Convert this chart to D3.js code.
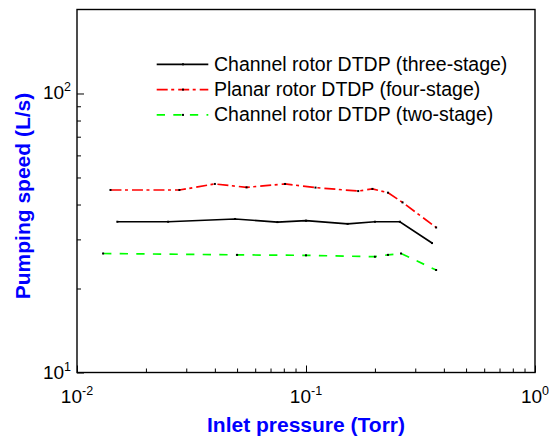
<!DOCTYPE html>
<html>
<head>
<meta charset="utf-8">
<script src="https://cdn.jsdelivr.net/npm/d3@7"></script>
<style>
  html, body { margin: 0; padding: 0; background: #fff; }
  svg { display: block; font-family: "Liberation Sans", Arial, sans-serif; }
</style>
</head>
<body>
<svg id="chart" width="549" height="440"></svg>
<script>
// ---- data ----
const seriesNames = [
  "Channel rotor DTDP (three-stage)",
  "Planar rotor DTDP (four-stage)",
  "Channel rotor DTDP (two-stage)"
];
const threeStageP = [0.015, 0.025, 0.049, 0.075, 0.1, 0.152, 0.2, 0.257, 0.355];
const threeStageS = [34.7, 34.7, 35.5, 34.6, 35.0, 34.1, 34.7, 34.7, 29.1];
const fourStageP = [0.014, 0.028, 0.040, 0.055, 0.081, 0.11, 0.169, 0.195, 0.228, 0.264, 0.37];
const fourStageS = [45.1, 45.1, 47.4, 46.1, 47.4, 46.0, 44.7, 45.5, 44.1, 40.7, 33.1];
const twoStageP = [0.013, 0.05, 0.1, 0.2, 0.228, 0.26, 0.37];
const twoStageS = [26.7, 26.4, 26.3, 26.0, 26.4, 26.7, 23.3];
const xMajorExp = [-2, -1, 0];
const yMajorExp = [1, 2];
const xTitle = "Inlet pressure (Torr)";
const yTitle = "Pumping speed (L/s)";

// ---- layout ----
const svg = d3.select("#chart");
const L = 77, R = 535, T = 9.5, B = 372.5;
const x = d3.scaleLog().domain([0.01, 1]).range([L, R]);
const y = d3.scaleLog().domain([10, 200]).range([B, T]);

const series = [
  {name: seriesNames[0], p: threeStageP, s: threeStageS, color: "#000000", dash: null},
  {name: seriesNames[1], p: fourStageP, s: fourStageS, color: "#ff0000", dash: "11,3.5,3,4"},
  {name: seriesNames[2], p: twoStageP, s: twoStageS, color: "#00ff00", dash: "8.3,8.3"}
];

// ---- axes ----
const xMinor = [];
for (let e = -2; e < 0; e++) for (let k = 2; k <= 9; k++) xMinor.push(k * Math.pow(10, e));
const yMinor = [];
for (let k = 2; k <= 9; k++) yMinor.push(k * 10);

const xMajVals = xMajorExp.map(e => Math.pow(10, e));
const yMajVals = yMajorExp.map(e => Math.pow(10, e));

function styleTicks(g) {
  g.select(".domain").remove();
  g.selectAll("line").attr("stroke", "#000").attr("stroke-width", 1);
}
svg.append("g").attr("transform", `translate(0,${B})`)
  .call(d3.axisBottom(x).tickValues(xMinor).tickSize(-4).tickFormat("")).call(styleTicks);
svg.append("g").attr("transform", `translate(0,${B})`)
  .call(d3.axisBottom(x).tickValues(xMajVals).tickSize(-7).tickFormat("")).call(styleTicks);
svg.append("g").attr("transform", `translate(${L},0)`)
  .call(d3.axisLeft(y).tickValues(yMinor).tickSize(-4).tickFormat("")).call(styleTicks);
svg.append("g").attr("transform", `translate(${L},0)`)
  .call(d3.axisLeft(y).tickValues(yMajVals).tickSize(-7).tickFormat("")).call(styleTicks);

// frame
svg.append("rect").attr("x", L).attr("y", T).attr("width", R - L).attr("height", B - T)
  .attr("fill", "none").attr("stroke", "#000").attr("stroke-width", 1.4);

// tick labels
xMajorExp.forEach(e => {
  const t = svg.append("text").attr("x", x(Math.pow(10, e))).attr("y", B + 30)
    .attr("text-anchor", "middle").attr("font-size", 19).attr("fill", "#000");
  t.append("tspan").text("10");
  t.append("tspan").attr("font-size", 12.5).attr("dy", -8).text(e === 0 ? "0" : "-" + Math.abs(e));
});
yMajorExp.forEach(e => {
  const t = svg.append("text").attr("x", L - 6).attr("y", y(Math.pow(10, e)) + 6)
    .attr("text-anchor", "end").attr("font-size", 19).attr("fill", "#000");
  t.append("tspan").text("10");
  t.append("tspan").attr("font-size", 12.5).attr("dy", -8).text(String(e));
});

// axis titles
svg.append("text").attr("x", 306).attr("y", 432).attr("text-anchor", "middle")
  .attr("font-size", 21).attr("font-weight", "bold").attr("fill", "#0000ff").text(xTitle);
svg.append("text").attr("transform", "translate(30,196) rotate(-90)").attr("text-anchor", "middle")
  .attr("font-size", 21).attr("font-weight", "bold").attr("fill", "#0000ff").text(yTitle);

// ---- lines ----
const line = d3.line().x(d => x(d[0])).y(d => y(d[1]));
series.forEach(sr => {
  const pts = sr.p.map((p, i) => [p, sr.s[i]]);
  svg.append("path").datum(pts).attr("d", line)
    .attr("fill", "none").attr("stroke", sr.color).attr("stroke-width", 1.7)
    .attr("stroke-dasharray", sr.dash);
  svg.append("g").selectAll("rect").data(pts).join("rect")
    .attr("x", d => x(d[0]) - 1).attr("y", d => y(d[1]) - 1)
    .attr("width", 2).attr("height", 2).attr("fill", "#000");
});

// ---- legend ----
const lg = svg.append("g");
series.forEach((sr, i) => {
  const yy = 64.3 + i * 25.3;
  lg.append("line").attr("x1", 156.7).attr("x2", 208.3).attr("y1", yy).attr("y2", yy)
    .attr("stroke", sr.color).attr("stroke-width", 1.7).attr("stroke-dasharray", sr.dash);
  lg.append("rect").attr("x", 182).attr("y", yy - 1).attr("width", 2).attr("height", 2).attr("fill", "#000");
  lg.append("text").attr("x", 214).attr("y", yy + 6.5).attr("font-size", 19.5)
    .attr("fill", "#000").text(sr.name);
});
</script>
</body>
</html>
